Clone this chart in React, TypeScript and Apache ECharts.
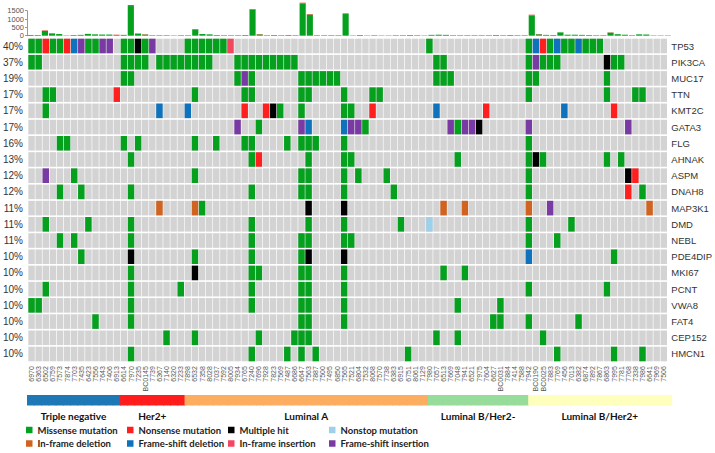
import React, { useEffect, useRef } from 'react';
import * as echarts from 'echarts';

const samples = ['6970','6363','6502','6759','7573','7874','7703','7435','6423','7556','7643','7406','6913','6614','7970','7235','BC0145','7739','6367','7140','6320','7233','7898','6532','7358','8028','7037','7592','8005','7934','6765','7240','7696','7928','7823','7569','7487','6686','6647','7563','7887','7500','7495','6850','7565','7521','6804','7532','8068','7570','7738','6383','6915','6751','8061','7129','7980','7057','6513','7669','7048','7941','6521','7975','7604','6627','BC0031','7884','7414','7588','7942','BC0190','BC0025','7883','7769','7456','7013','6382','6874','7892','7867','6863','7995','7781','7768','7338','7986','6641','7969','7506'];

const subtypeNames = ['Triple negative', 'Her2+', 'Luminal A', 'Luminal B/Her2-', 'Luminal B/Her2+'];
const subtypeCounts = [13, 9, 34, 14, 20];
const subtypeColors = ['#1f78b6', '#ff1c1c', '#fdad60', '#97dc9b', '#ffffbd'];

const genes = ['TP53','PIK3CA','MUC17','TTN','KMT2C','GATA3','FLG','AHNAK','ASPM','DNAH8','MAP3K1','DMD','NEBL','PDE4DIP','MKI67','PCNT','VWA8','FAT4','CEP152','HMCN1'];
const genePct = [40, 37, 19, 17, 17, 17, 16, 13, 12, 12, 11, 11, 11, 10, 10, 10, 10, 10, 10, 10];

const mutationTypes = ['Missense mutation', 'Nonsense mutation', 'Multiple hit', 'Nonstop mutation', 'In-frame deletion', 'Frame-shift deletion', 'In-frame insertion', 'Frame-shift insertion'];
const mutationCodes = ['M', 'N', 'X', 'S', 'D', 'F', 'I', 'P'];
const mutationColors = ['#05a11e', '#ff1f1f', '#000000', '#9fd0ea', '#d0631f', '#0f72bd', '#f2475f', '#7a3aa3'];

// per gene: "sampleIndex + type code"
const geneMutations = [
  '0M 1M 2N 3M 4M 5N 6F 7P 8M 9M 10P 11P 13M 14M 15X 16M 17P 22M 23M 24M 25M 26M 27M 28I 56M 70M 71F 72N 73M 74F 75M 76M 77F 78M 79M 80M',
  '0M 1M 13M 14M 15M 16M 18M 19M 20M 21M 22M 23M 24M 25M 29M 30M 31M 32M 33M 34M 35M 36M 37M 57M 58M 70M 71P 72M 73M 74M 81X 82M 83M',
  '13M 14M 29M 30P 31M 38M 39M 40M 41M 42M 43M 57M 58M 59M 70M 71M 81M',
  '2M 3M 12N 23M 30M 31M 38M 39M 44M 48M 49M 70M 81M 85M 86M',
  '2M 18F 22F 30N 33N 34X 35M 38M 44M 45M 48N 57F 64N 75F 82N',
  '29P 32M 38P 39F 44F 45P 46P 47M 59P 60M 61P 62P 63X 70P 84P',
  '4M 5M 13M 15M 23M 26M 30M 31M 36M 38M 39M 40M 44M 70M',
  '14M 31M 32N 39M 44M 45M 60M 70M 71X 72M 81M 83M',
  '2P 6M 23M 38M 39M 44M 46M 50M 70M 84X 85N',
  '4M 7M 14M 31M 38M 39M 44M 51M 70M 84N 86M',
  '18D 23D 24M 39X 44X 58D 61D 70D 73P 87D',
  '2M 8M 14M 31M 39M 44M 52M 56S 70M 76M',
  '4M 6M 14M 31M 38M 39M 44M 45M 70M 74M',
  '7M 14X 23M 31M 38M 39X 44X 70F 82M',
  '14M 23X 31M 32M 38M 39M 44M 58M 61M',
  '2M 14M 21M 31M 38M 39M 44M 70M 81M',
  '0M 1M 14M 31M 38M 39M 44M 60M 66M',
  '9M 14M 38M 39M 44M 65M 66M 70M 77M',
  '19M 23M 32M 37M 38M 39M 57M 60M 72M',
  '14M 31M 36M 38M 40M 53M 74M 82M 86M',
];

// mutation burden per sample (total) and its non-missense share
const burdenTotal = [40,40,320,140,100,20,40,50,110,80,70,70,60,50,1840,130,90,30,30,30,20,30,30,400,100,80,40,30,30,30,40,1600,100,30,40,30,40,30,1980,1300,30,30,30,30,1340,20,40,20,30,20,20,30,30,40,30,20,50,60,50,30,30,30,30,30,30,40,30,40,30,30,1260,100,50,40,200,60,60,50,40,30,30,200,90,60,30,80,70,20,20,20];
const burdenOther = [0,0,30,0,0,0,0,0,0,0,0,0,20,0,60,0,20,0,0,0,0,0,0,40,0,0,0,0,0,0,0,40,20,0,0,0,0,0,40,30,0,0,0,0,40,0,0,0,0,0,0,0,0,0,0,0,0,0,0,0,0,0,0,0,0,0,0,0,0,0,40,15,0,0,0,0,0,0,0,0,0,15,0,0,0,0,0,0,0,0];

const burdenTicks = [0, 500, 1000, 1500];

const LEFT = 27;
const RIGHT = 43.6;
const CHART_W = 715;

export default function App() {
  const ref = useRef<HTMLDivElement>(null);
  useEffect(() => {
    const chart = echarts.init(ref.current as HTMLDivElement, null, { renderer: 'svg' });

    const bgData: number[][] = [];
    for (let g = 0; g < genes.length; g++) {
      for (let s = 0; s < samples.length; s++) bgData.push([s, g]);
    }
    const typeData: number[][][] = mutationTypes.map(() => []);
    geneMutations.forEach((str, g) => {
      str.split(' ').forEach((tok) => {
        const code = tok.slice(-1);
        const idx = parseInt(tok.slice(0, -1), 10);
        const t = mutationCodes.indexOf(code);
        if (t >= 0) typeData[t].push([idx, g]);
      });
    });

    const cell = (color: string) => (params: any, api: any) => {
      const p = api.coord([api.value(0), api.value(1)]);
      const s = api.size([1, 1]);
      const w = s[0] * 0.91;
      const h = s[1] * 0.9;
      return {
        type: 'rect',
        shape: { x: p[0] - w / 2, y: p[1] - h / 2, width: w, height: h },
        style: { fill: color },
      };
    };

    const subtypeOf: number[] = [];
    subtypeCounts.forEach((c, k) => {
      for (let j = 0; j < c; j++) subtypeOf.push(k);
    });

    const colW = (CHART_W - LEFT - RIGHT) / samples.length;
    let cum = 0;
    const subtypeLabels = subtypeNames.map((name, k) => {
      const cx = LEFT + (cum + subtypeCounts[k] / 2) * colW;
      cum += subtypeCounts[k];
      return {
        type: 'text',
        x: cx,
        y: 416,
        style: {
          text: name,
          fill: '#111',
          fontSize: 10,
          fontWeight: 'bold',
          fontFamily: 'Lato',
          align: 'center',
          verticalAlign: 'middle',
        },
      };
    });

    const stripData = samples.map((_, i) => [i, 0, subtypeOf[i]]);

    const series: any[] = [
      {
        type: 'custom',
        name: 'none',
        xAxisIndex: 0,
        yAxisIndex: 0,
        data: bgData,
        renderItem: cell('#d3d3d3'),
        silent: true,
      },
      ...mutationTypes.map((name, t) => ({
        type: 'custom',
        name,
        xAxisIndex: 0,
        yAxisIndex: 0,
        data: typeData[t],
        itemStyle: { color: mutationColors[t] },
        renderItem: cell(mutationColors[t]),
      })),
      {
        type: 'bar',
        name: 'burden-missense',
        xAxisIndex: 1,
        yAxisIndex: 2,
        stack: 'burden',
        barWidth: '86%',
        clip: false,
        itemStyle: { color: mutationColors[0] },
        data: burdenTotal.map((v, i) => v - burdenOther[i]),
      },
      {
        type: 'bar',
        name: 'burden-other',
        xAxisIndex: 1,
        yAxisIndex: 2,
        stack: 'burden',
        barWidth: '86%',
        clip: false,
        itemStyle: { color: '#e8402e' },
        data: burdenOther,
      },
      {
        type: 'custom',
        name: 'subtype',
        xAxisIndex: 2,
        yAxisIndex: 3,
        data: stripData,
        silent: true,
        renderItem: (params: any, api: any) => {
          const p0 = api.coord([api.value(0), 1]);
          const p1 = api.coord([api.value(0), 0]);
          const s = api.size([1, 1]);
          const w = s[0] + 0.8;
          return {
            type: 'rect',
            shape: { x: p0[0] - s[0] / 2, y: p0[1], width: w, height: p1[1] - p0[1] },
            style: { fill: subtypeColors[api.value(2)] },
          };
        },
      },
    ];

    const option: any = {
      animation: false,
      backgroundColor: '#ffffff',
      grid: [
        { left: LEFT, right: RIGHT, top: 37.9, height: 324.2 },
        { left: LEFT, right: RIGHT, top: 10.7, height: 25 },
        { left: LEFT, right: RIGHT, top: 395, height: 10.5 },
      ],
      xAxis: [
        {
          gridIndex: 0,
          type: 'category',
          data: samples,
          position: 'bottom',
          axisLine: { show: false },
          axisTick: { show: false },
          axisLabel: {
            interval: 0,
            rotate: 90,
            fontSize: 7,
            color: '#555',
            margin: 4,
            fontFamily: 'Liberation Sans',
          },
        },
        { gridIndex: 1, type: 'category', data: samples, show: false },
        { gridIndex: 2, type: 'category', data: samples, show: false },
      ],
      yAxis: [
        {
          gridIndex: 0,
          type: 'category',
          data: genes,
          inverse: true,
          position: 'right',
          axisLine: { show: false },
          axisTick: { show: false },
          axisLabel: { fontSize: 9.5, color: '#333', margin: 4, fontFamily: 'Liberation Sans' },
        },
        {
          gridIndex: 0,
          type: 'category',
          data: genePct.map((p) => p + '%'),
          inverse: true,
          position: 'left',
          axisLine: { show: false },
          axisTick: { show: false },
          axisLabel: { fontSize: 10, color: '#333', margin: 5, fontFamily: 'Liberation Sans' },
        },
        {
          gridIndex: 1,
          type: 'value',
          min: burdenTicks[0],
          max: burdenTicks[burdenTicks.length - 1],
          interval: 500,
          splitLine: { show: false },
          axisLine: { show: true, lineStyle: { color: '#999', width: 1 } },
          axisTick: { show: true, length: 2, lineStyle: { color: '#999' } },
          axisLabel: {
            fontSize: 7.5,
            color: '#555',
            margin: 3,
            fontFamily: 'Liberation Sans',
            formatter: (v: number) => String(v),
          },
        },
        { gridIndex: 2, type: 'value', min: 0, max: 1, show: false },
      ],
      legend: mutationTypes.map((name, k) => ({
        data: [name],
        left: 26 + (k % 4) * 101,
        top: 425 + Math.floor(k / 4) * 13.5,
        icon: 'rect',
        itemWidth: 6.5,
        itemHeight: 6.5,
        padding: 0,
        selectedMode: false,
        textStyle: { fontSize: 9.5, fontWeight: 'bold', fontFamily: 'Lato', color: '#222' },
      })),
      graphic: subtypeLabels,
      series,
    };

    chart.setOption(option);
    return () => chart.dispose();
  }, []);

  return (
    <div
      ref={ref}
      style={{ position: 'fixed', left: 0, top: 0, width: 715, height: 453, background: '#fff' }}
    />
  );
}
